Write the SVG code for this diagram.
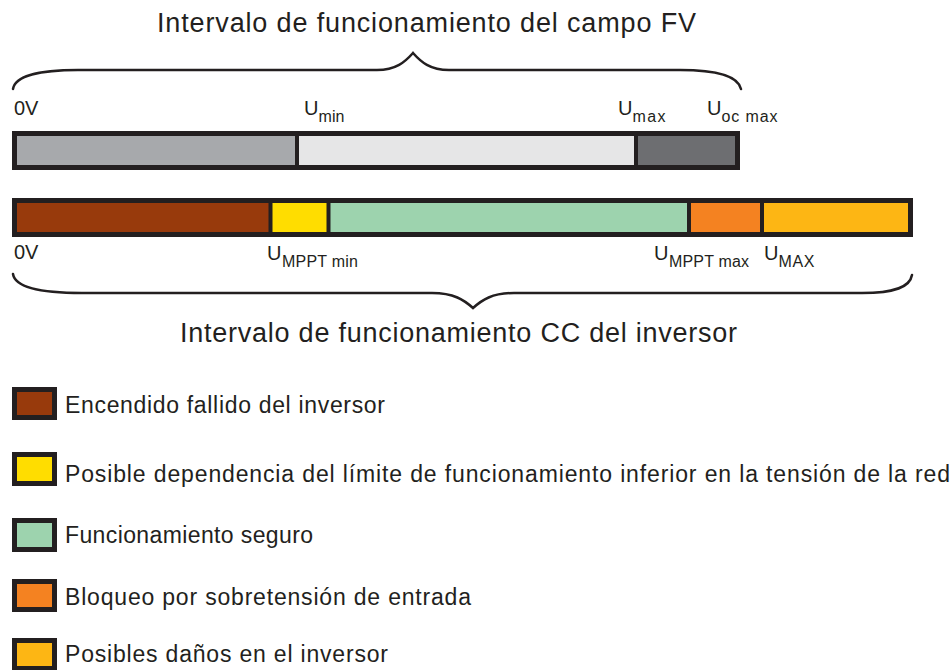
<svg xmlns="http://www.w3.org/2000/svg" width="952" height="670" viewBox="0 0 952 670">
<style>
text{font-family:"Liberation Sans",Arial,sans-serif;fill:#231f20}
.title{font-size:27px}
.lbl{font-size:20px}
.sub{font-size:16px}
.leg{font-size:23px}
.frame{fill:none;stroke:#231f20;stroke-width:5}
.div{stroke:#231f20;stroke-width:4}
.brace{fill:none;stroke:#231f20;stroke-width:2.5;stroke-linecap:round}
.sw{stroke:#231f20;stroke-width:5}
</style>
<rect width="952" height="670" fill="#ffffff"/>
<g id="title-top"><text class="title" x="157" y="32" textLength="539" lengthAdjust="spacing">Intervalo de funcionamiento del campo FV</text></g>
<g id="braces">
<path class="brace" d="M13,89 C15,76 40,70 78,70 L377,70 C396,70 405,62 413,53 C421,62 430,70 449,70 L680,70 C716,70 738,76 741,89"/>
<path class="brace" d="M13,274 C15,287 40,293 82,293 L432,293 C454,293 464,300 473,308 C482,300 492,293 514,293 L862,293 C895,293 910,287 912,275"/>
</g>
<g id="bar-fv">
<rect x="12" y="131" width="286" height="39" fill="#a7a9ac"/>
<rect x="297" y="131" width="340" height="39" fill="#e6e6e7"/>
<rect x="636" y="131" width="104" height="39" fill="#6d6e71"/>
<line class="div" x1="297" y1="133" x2="297" y2="168"/>
<line class="div" x1="636" y1="133" x2="636" y2="168"/>
<rect class="frame" x="14.5" y="133.5" width="723" height="34"/>
</g>
<g id="labels-fv">
<text class="lbl" x="14" y="115">0V</text>
<text class="lbl" x="304" y="115">U</text><text class="sub" x="318.5" y="122" textLength="26" lengthAdjust="spacing">min</text>
<text class="lbl" x="618" y="115">U</text><text class="sub" x="632.5" y="122" textLength="33" lengthAdjust="spacing">max</text>
<text class="lbl" x="707" y="115">U</text><text class="sub" x="721.5" y="122" textLength="56" lengthAdjust="spacing">oc  max</text>
</g>
<g id="bar-inv">
<rect x="12" y="198" width="260" height="39" fill="#983a0c"/>
<rect x="270" y="198" width="60" height="39" fill="#ffdd00"/>
<rect x="328" y="198" width="362" height="39" fill="#9dd3ae"/>
<rect x="689" y="198" width="74" height="39" fill="#f48221"/>
<rect x="762" y="198" width="151" height="39" fill="#fdb614"/>
<line class="div" x1="270.5" y1="200" x2="270.5" y2="235"/>
<line class="div" x1="328.5" y1="200" x2="328.5" y2="235"/>
<line class="div" x1="689" y1="200" x2="689" y2="235"/>
<line class="div" x1="762" y1="200" x2="762" y2="235"/>
<rect class="frame" x="14.5" y="200.5" width="896" height="34"/>
</g>
<g id="labels-inv">
<text class="lbl" x="14" y="259">0V</text>
<text class="lbl" x="267" y="260">U</text><text class="sub" x="282" y="267" textLength="76" lengthAdjust="spacing">MPPT min</text>
<text class="lbl" x="654" y="260">U</text><text class="sub" x="669" y="267" textLength="80" lengthAdjust="spacing">MPPT max</text>
<text class="lbl" x="764" y="260">U</text><text class="sub" x="778.5" y="267" textLength="36" lengthAdjust="spacing">MAX</text>
</g>
<g id="title-bottom"><text class="title" x="180" y="342" textLength="557" lengthAdjust="spacing">Intervalo de funcionamiento CC del inversor</text></g>
<g id="legend-1"><rect class="sw" x="14.5" y="389.5" width="40" height="28" fill="#983a0c"/><text class="leg" x="65" y="413" textLength="320" lengthAdjust="spacing">Encendido fallido del inversor</text></g>
<g id="legend-2"><rect class="sw" x="14.5" y="454.5" width="40" height="29" fill="#ffdd00"/><text class="leg" x="65" y="482" textLength="885" lengthAdjust="spacing">Posible dependencia del límite de funcionamiento inferior en la tensión de la red</text></g>
<g id="legend-3"><rect class="sw" x="14.5" y="520.5" width="40" height="29" fill="#9dd3ae"/><text class="leg" x="65" y="543" textLength="248" lengthAdjust="spacing">Funcionamiento seguro</text></g>
<g id="legend-4"><rect class="sw" x="14.5" y="581.5" width="40" height="28" fill="#f48221"/><text class="leg" x="65" y="605" textLength="406" lengthAdjust="spacing">Bloqueo por sobretensión de entrada</text></g>
<g id="legend-5"><rect class="sw" x="14.5" y="640.5" width="40" height="28" fill="#fdb614"/><text class="leg" x="65" y="662" textLength="323" lengthAdjust="spacing">Posibles daños en el inversor</text></g>
</svg>
